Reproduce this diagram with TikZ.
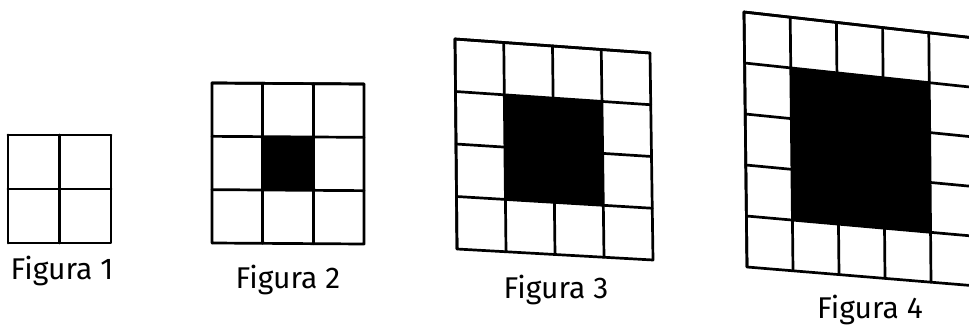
\documentclass[tikz,border=0pt]{standalone}
\usepackage{fontspec}
\setmainfont{Fira Sans}
\usetikzlibrary{calc}
\tikzset{
  gridline/.style={line width=2.7pt, line join=round, line cap=round, draw=black},
  lbl/.style={font=\fontsize{30}{32}\selectfont, inner sep=0pt, anchor=base, text=black}
}
\newcommand\gridfig[6]{% #1 n, #2 prefix, #3..#6 corners TL TR BR BL
  \coordinate (#2a) at (#3); \coordinate (#2b) at (#4);
  \coordinate (#2c) at (#5); \coordinate (#2d) at (#6);
  \ifnum#1>2
    \pgfmathsetmacro\lo{1/#1}\pgfmathsetmacro\hi{(#1-1)/#1}
    \coordinate (#2t1) at ($(#2a)!\lo!(#2b)$);
    \coordinate (#2t2) at ($(#2a)!\hi!(#2b)$);
    \coordinate (#2u1) at ($(#2d)!\lo!(#2c)$);
    \coordinate (#2u2) at ($(#2d)!\hi!(#2c)$);
    \fill[black] ($(#2t1)!\lo!(#2u1)$) -- ($(#2t2)!\lo!(#2u2)$) -- ($(#2t2)!\hi!(#2u2)$) -- ($(#2t1)!\hi!(#2u1)$) -- cycle;
  \fi
  \foreach \i in {1,...,#1}{
    \pgfmathsetmacro\t{(\i-1)/#1}
    \draw[gridline] ($(#2a)!\t!(#2b)$) -- ($(#2d)!\t!(#2c)$);
    \draw[gridline] ($(#2a)!\t!(#2d)$) -- ($(#2b)!\t!(#2c)$);
  }
  \draw[gridline] (#2a) -- (#2b) -- (#2c) -- (#2d) -- cycle;
}
\begin{document}
\begin{tikzpicture}[x=1pt,y=-1pt]
  \useasboundingbox (0,0) rectangle (969,329);
  \fill[white] (0,0) rectangle (969,329);
  \clip (0,0) rectangle (969,329);
  \gridfig{2}{f1}{8,135}{111,135}{111,243}{8,243}
  \gridfig{3}{f2}{212,83}{364,84}{364,244}{212,243}
  \gridfig{4}{f3}{455,39}{650,53}{653,260}{457,249}
  \gridfig{5}{f4}{744,12}{975,38}{977,286}{747,267}
  \node[lbl] (l1) at (62,279) {Figura 1};
  \node[lbl] (l2) at (288,288) {Figura 2};
  \node[lbl] (l3) at (556,298) {Figura 3};
  \node[lbl] (l4) at (870,318) {Figura 4};
\end{tikzpicture}
\end{document}
